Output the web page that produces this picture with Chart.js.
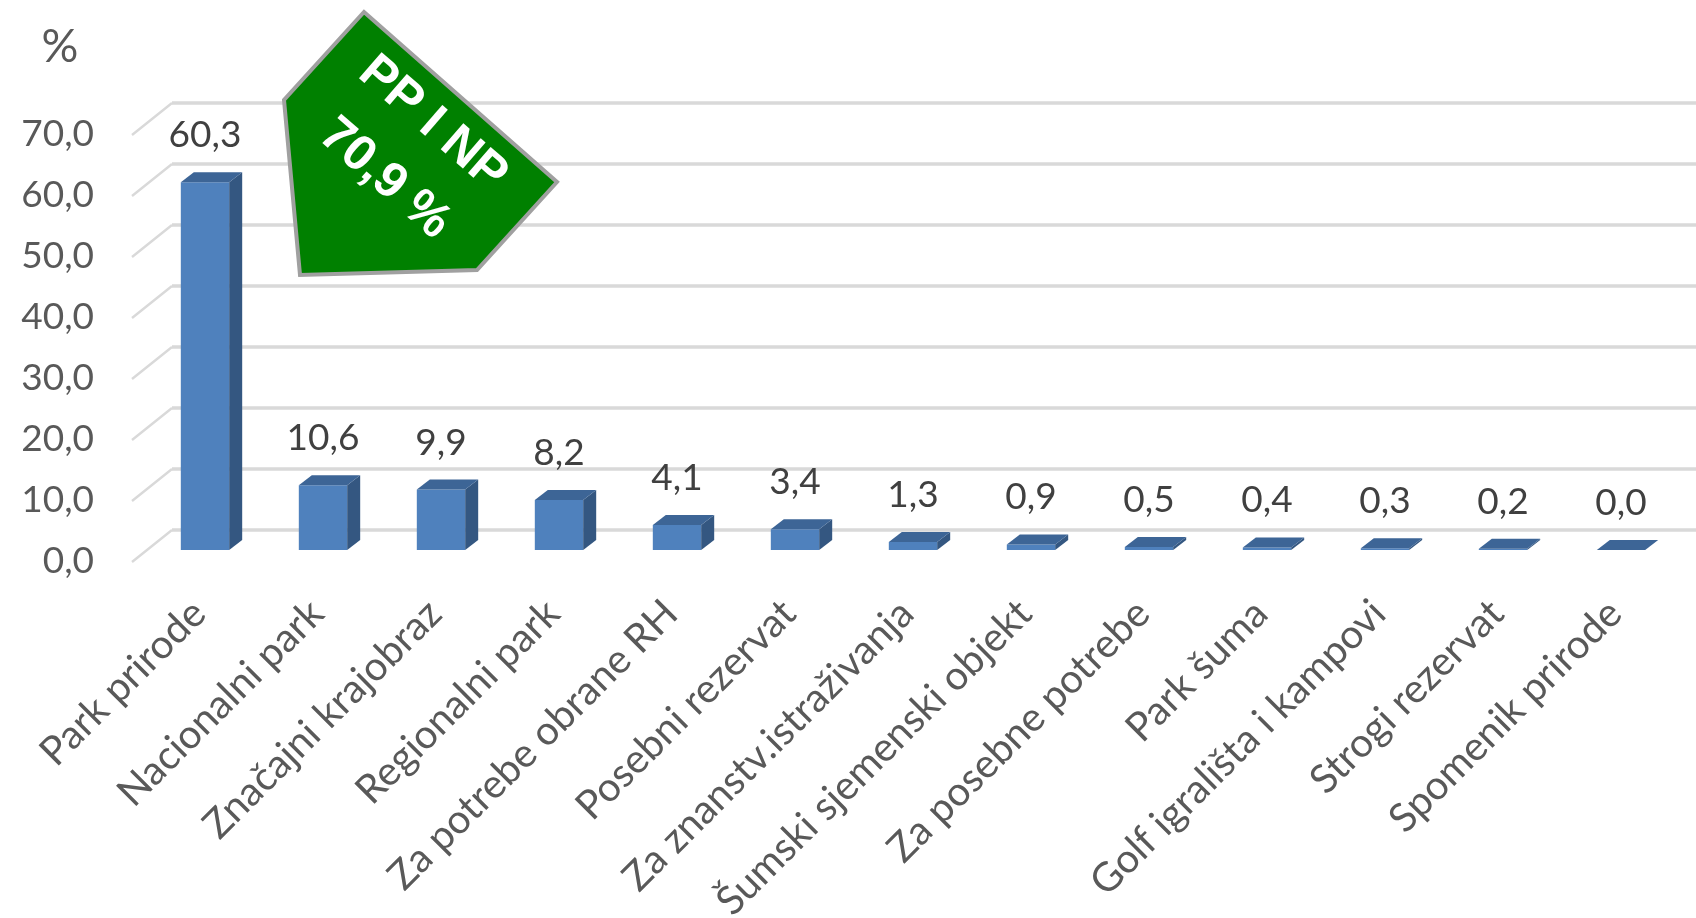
<!DOCTYPE html>
<html>
<head>
<meta charset="utf-8">
<script src="https://cdn.jsdelivr.net/npm/chart.js@4.4.1/dist/chart.umd.min.js"></script>
<style>
  html, body { margin: 0; padding: 0; background: #fff; }
  #wrap { width: 1696px; height: 918px; position: relative; }
</style>
</head>
<body>
<div id="wrap"><canvas id="zasticena"></canvas></div>
<script>
const categories = [
  'Park prirode', 'Nacionalni park', 'Značajni krajobraz', 'Regionalni park',
  'Za potrebe obrane RH', 'Posebni rezervat', 'Za znanstv.istraživanja',
  'Šumski sjemenski objekt', 'Za posebne potrebe', 'Park šuma',
  'Golf igrališta i kampovi', 'Strogi rezervat', 'Spomenik prirode'
]
const shares = [60.3, 10.6, 9.9, 8.2, 4.1, 3.4, 1.3, 0.9, 0.5, 0.4, 0.3, 0.2, 0.0]
const yTicks = [0, 10, 20, 30, 40, 50, 60, 70]
const unitLabel = '%'
const calloutLines = ['PP I NP', '70,9 %']

const textFont = 'Lato, "Open Sans", sans-serif'
const fmt = v => v.toFixed(1).replace('.', ',')

// 3d look: back wall offset and bar depth
const wallDx = 40, wallDy = 32
const barDx = 13, barDy = 10

const wallGrid = {
  id: 'wallGrid',
  beforeDatasetsDraw(chart) {
    const ctx = chart.ctx
    const y = chart.scales.y
    ctx.save()
    ctx.strokeStyle = '#d9d9d9'
    yTicks.forEach(v => {
      const py = y.getPixelForValue(v)
      const fx = 132, fy = py + 12
      ctx.lineWidth = 2.5
      ctx.beginPath()
      ctx.moveTo(fx, fy)
      ctx.lineTo(fx + wallDx, fy - wallDy)
      ctx.stroke()
      ctx.lineWidth = 3.5
      ctx.beginPath()
      ctx.moveTo(fx + wallDx, fy - wallDy)
      ctx.lineTo(chart.width, fy - wallDy)
      ctx.stroke()
    })
    ctx.restore()
  }
}

const barDepth = {
  id: 'barDepth',
  afterDatasetsDraw(chart) {
    const ctx = chart.ctx
    const meta = chart.getDatasetMeta(0)
    ctx.save()
    meta.data.forEach((bar, i) => {
      const l = bar.x - bar.width / 2, r = bar.x + bar.width / 2
      const top = bar.y, base = bar.base
      // right side
      ctx.fillStyle = '#345781'
      ctx.beginPath()
      ctx.moveTo(r, top)
      ctx.lineTo(r + barDx, top - barDy)
      ctx.lineTo(r + barDx, base - barDy)
      ctx.lineTo(r, base)
      ctx.closePath()
      ctx.fill()
      // top
      ctx.fillStyle = '#3d6596'
      ctx.beginPath()
      ctx.moveTo(l, top)
      ctx.lineTo(l + barDx, top - barDy)
      ctx.lineTo(r + barDx, top - barDy)
      ctx.lineTo(r, top)
      ctx.closePath()
      ctx.fill()
      // value label
      ctx.fillStyle = '#404040'
      ctx.font = '37px ' + textFont
      ctx.textAlign = 'center'
      ctx.textBaseline = 'middle'
      ctx.fillText(fmt(shares[i]), bar.x, top - 47)
    })
    ctx.restore()
  }
}

const extras = {
  id: 'extras',
  afterDraw(chart) {
    const ctx = chart.ctx
    ctx.save()
    ctx.fillStyle = '#595959'
    ctx.font = '46px ' + textFont
    ctx.textAlign = 'center'
    ctx.textBaseline = 'middle'
    ctx.fillText(unitLabel, 60, 47)

    // green callout
    ctx.beginPath()
    ctx.moveTo(364, 12)
    ctx.lineTo(557, 182)
    ctx.lineTo(477, 270)
    ctx.lineTo(300, 275)
    ctx.lineTo(284, 100)
    ctx.closePath()
    ctx.fillStyle = '#008000'
    ctx.fill()
    ctx.lineWidth = 4
    ctx.strokeStyle = '#a0a0a0'
    ctx.stroke()

    ctx.translate(409, 151)
    ctx.rotate(41 * Math.PI / 180)
    ctx.fillStyle = '#ffffff'
    ctx.font = 'bold 50px "Liberation Sans", Arial, sans-serif'
    ctx.fillText(calloutLines[0], 0, -36)
    ctx.fillText(calloutLines[1], 0, 37)
    ctx.restore()
  }
}

new Chart(document.getElementById('zasticena'), {
  type: 'bar',
  data: {
    labels: categories,
    datasets: [{
      data: shares,
      backgroundColor: '#4f81bd',
      borderWidth: 0,
      categoryPercentage: 1,
      barPercentage: 0.41
    }]
  },
  options: {
    responsive: true,
    maintainAspectRatio: false,
    animation: false,
    layout: { padding: { top: 123, right: 16, left: 0, bottom: 0 } },
    plugins: { legend: { display: false }, tooltip: { enabled: false } },
    scales: {
      x: {
        grid: { display: false, drawTicks: false },
        border: { display: false },
        ticks: {
          autoSkip: false,
          minRotation: 45,
          maxRotation: 45,
          padding: 40,
          labelOffset: -6,
          color: '#595959',
          font: { family: textFont, size: 40 }
        },
        afterFit(s) { s.height = 368 }
      },
      y: {
        min: 0,
        max: 70,
        afterBuildTicks(s) { s.ticks = yTicks.map(v => ({ value: v })) },
        grid: { display: false, drawTicks: false },
        border: { display: false },
        ticks: {
          padding: 52,
          labelOffset: 11,
          color: '#595959',
          font: { family: textFont, size: 37 },
          callback: v => fmt(v)
        },
        afterFit(s) { s.width = 146 }
      }
    }
  },
  plugins: [wallGrid, barDepth, extras]
})
</script>
</body>
</html>
